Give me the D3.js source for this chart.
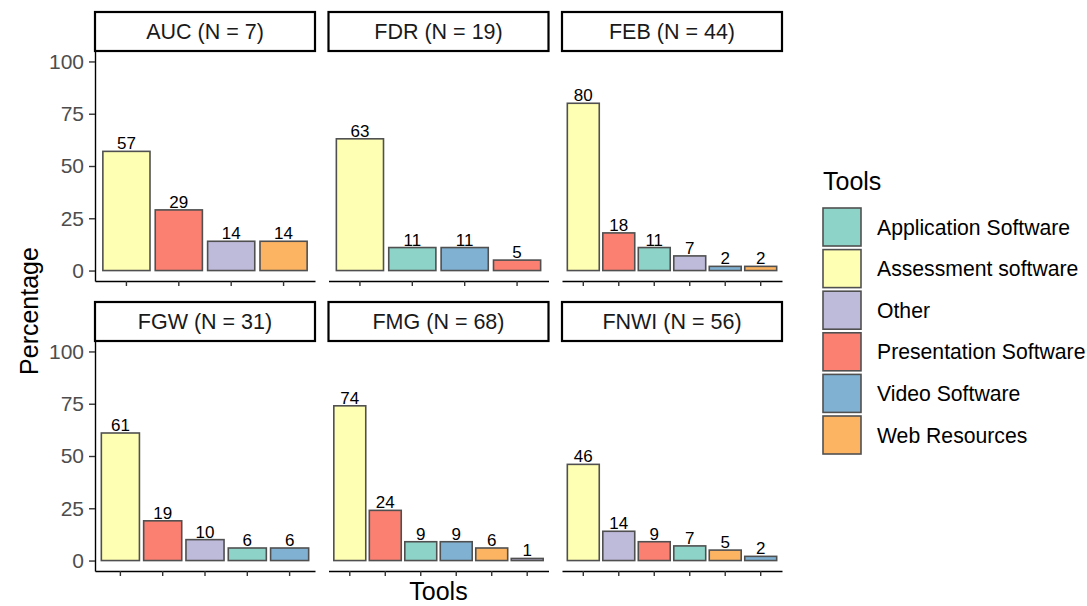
<!DOCTYPE html>
<html lang="en">
<head>
  <meta charset="UTF-8">
  <title>Tools by faculty</title>
  <script src="https://d3js.org/d3.v7.min.js"></script>
  <style>
    body { margin: 0; background: #fff; }
    text { font-family: "Liberation Sans", Arial, sans-serif; }
    .bar { stroke: #505050; stroke-width: 1.6px; }
    .axis path, .axis line { stroke: #000; stroke-width: 1.4px; }
    .axis line { stroke: #333; }
    .axis text { fill: #4d4d4d; font-size: 21px; }
    .strip rect { fill: #fff; stroke: #000; stroke-width: 2.2px; }
    .strip text { fill: #1a1a1a; font-size: 21.5px; }
    .label { font-size: 17px; fill: #000; }
  </style>
</head>
<body>
  <div id="chart"></div>
  <script>
    // data
    const faculties = ["AUC", "FDR", "FEB", "FGW", "FMG", "FNWI"];
    const facultyN = [7, 19, 44, 31, 68, 56];
    const toolNames = ["Application Software", "Assessment software", "Other",
                       "Presentation Software", "Video Software", "Web Resources"];
    const panelTools = [
      ["Assessment software", "Presentation Software", "Other", "Web Resources"],
      ["Assessment software", "Application Software", "Video Software", "Presentation Software"],
      ["Assessment software", "Presentation Software", "Application Software", "Other", "Video Software", "Web Resources"],
      ["Assessment software", "Presentation Software", "Other", "Application Software", "Video Software"],
      ["Assessment software", "Presentation Software", "Application Software", "Video Software", "Web Resources", "Other"],
      ["Assessment software", "Other", "Presentation Software", "Application Software", "Web Resources", "Video Software"]
    ];
    const panelValues = [
      [57, 29, 14, 14],
      [63, 11, 11, 5],
      [80, 18, 11, 7, 2, 2],
      [61, 19, 10, 6, 6],
      [74, 24, 9, 9, 6, 1],
      [46, 14, 9, 7, 5, 2]
    ];
    const yTicks = [0, 25, 50, 75, 100];

    const palette = ["#8dd3c7", "#ffffb3", "#bebada", "#fb8072", "#80b1d3", "#fdb462"];
    const color = d3.scaleOrdinal().domain(toolNames).range(palette);

    const width = 1087, height = 606;
    const colX = [95, 328.5, 562];
    const panelW = 220;
    const stripTop = [12, 302];
    const stripH = 39;
    const panelH = 230;

    const svg = d3.select("#chart").append("svg")
      .attr("width", width)
      .attr("height", height);

    faculties.forEach((f, i) => {
      const col = i % 3, row = Math.floor(i / 3);
      const x0 = colX[col];
      const top = stripTop[row] + stripH;
      const g = svg.append("g");

      // strip
      const strip = g.append("g").attr("class", "strip");
      strip.append("rect")
        .attr("x", x0).attr("y", stripTop[row])
        .attr("width", panelW).attr("height", stripH);
      strip.append("text")
        .attr("x", x0 + panelW / 2).attr("y", stripTop[row] + stripH / 2)
        .attr("text-anchor", "middle").attr("dy", "0.36em")
        .text(`${f} (N = ${facultyN[i]})`);

      const x = d3.scaleBand()
        .domain(panelTools[i])
        .range([x0, x0 + panelW])
        .paddingInner(0.1)
        .paddingOuter(0.15);
      const y = d3.scaleLinear().domain([-5, 105]).range([top + panelH, top]);

      const rows = panelTools[i].map((t, j) => ({ tool: t, value: panelValues[i][j] }));

      g.selectAll(".bar").data(rows).enter().append("rect")
        .attr("class", "bar")
        .attr("x", d => x(d.tool))
        .attr("width", x.bandwidth())
        .attr("y", d => y(d.value))
        .attr("height", d => y(0) - y(d.value))
        .attr("fill", d => color(d.tool));

      g.selectAll(".label").data(rows).enter().append("text")
        .attr("class", "label")
        .attr("x", d => x(d.tool) + x.bandwidth() / 2)
        .attr("y", d => y(d.value) - 2)
        .attr("text-anchor", "middle")
        .text(d => d.value);

      // x axis
      g.append("g")
        .attr("class", "axis")
        .attr("transform", `translate(0, ${top + panelH})`)
        .call(d3.axisBottom(x).tickSize(5).tickSizeOuter(0).tickFormat(""));

      // y axis only on the first column
      if (col === 0) {
        g.append("g")
          .attr("class", "axis")
          .attr("transform", `translate(${x0}, 0)`)
          .call(d3.axisLeft(y).tickValues(yTicks).tickSize(6).tickSizeOuter(0).tickPadding(5));
      }
    });

    // axis titles
    svg.append("text")
      .attr("transform", `translate(38, 311) rotate(-90)`)
      .attr("text-anchor", "middle")
      .style("font-size", "25px")
      .text("Percentage");

    svg.append("text")
      .attr("x", 438.5).attr("y", 600)
      .attr("text-anchor", "middle")
      .style("font-size", "25px")
      .text("Tools");

    // legend
    const legend = svg.append("g").attr("transform", "translate(823, 0)");
    legend.append("text")
      .attr("x", 0).attr("y", 190)
      .style("font-size", "25px")
      .text("Tools");

    const items = legend.selectAll(".item").data(toolNames).enter().append("g")
      .attr("transform", (d, i) => `translate(0, ${208 + i * 41.6})`);
    items.append("rect")
      .attr("class", "bar")
      .attr("width", 38).attr("height", 38)
      .attr("fill", d => color(d));
    items.append("text")
      .attr("x", 54).attr("y", 19).attr("dy", "0.36em")
      .style("font-size", "21.2px")
      .text(d => d);
  </script>
</body>
</html>
